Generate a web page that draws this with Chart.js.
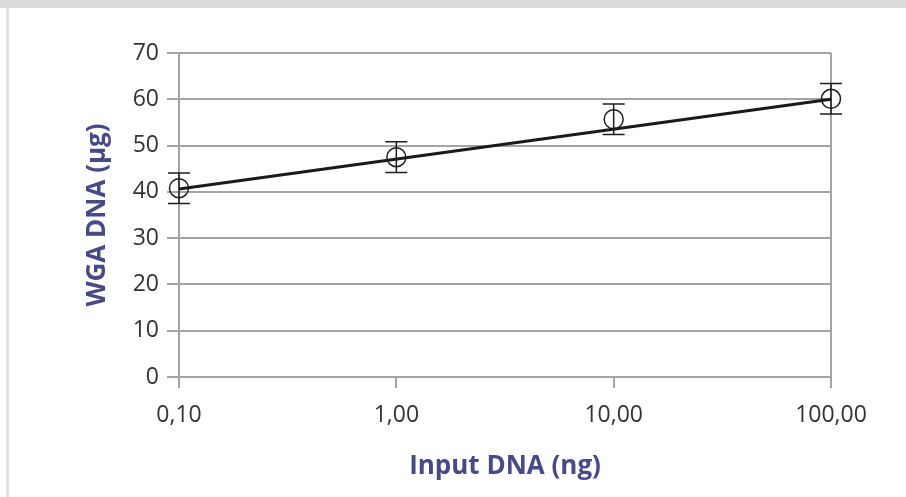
<!DOCTYPE html>
<html>
<head>
<meta charset="utf-8">
<script src="https://cdn.jsdelivr.net/npm/chart.js@4.4.1/dist/chart.umd.min.js"></script>
<style>
  html, body { margin: 0; padding: 0; background: #ffffff; }
  #wrap { position: relative; width: 906px; height: 497px; overflow: hidden; background: #ffffff; }
  #topband { position: absolute; left: 0; top: 0; width: 906px; height: 8px; background: #dcdcdc; }
  #leftband { position: absolute; left: 6px; top: 8px; width: 3px; height: 489px; background: #e2e2e2; }
  #c { position: absolute; left: 0; top: 0; }
</style>
</head>
<body>
<div id="wrap">
  <div id="topband"></div>
  <div id="leftband"></div>
  <canvas id="c" width="906" height="497"></canvas>
</div>
<script>
// ---- data ----
const inputDNA = [0.1, 1, 10, 100];           // ng (x, log scale)
const wgaDNA   = [40.8, 47.5, 55.7, 60.1];     // µg (mean)
const wgaErr   = [3.3, 3.3, 3.3, 3.3];         // µg (± error)
const trendX   = [0.1, 100];                   // trend line end points (x)
const trendY   = [40.6, 60.0];                 // trend line end points (y)
const xTickValues = [0.1, 1, 10, 100];
const xTickLabels = ['0,10', '1,00', '10,00', '100,00'];
const yTickValues = [0, 10, 20, 30, 40, 50, 60, 70];

const GRID = '#a4a4a4';
const INK = '#1e1e1e';
const TITLE = '#474a86';

const errorBarPlugin = {
  id: 'errorBars',
  afterDatasetsDraw(chart) {
    const ctx = chart.ctx;
    const xs = chart.scales.x, ys = chart.scales.y;
    ctx.save();
    ctx.strokeStyle = INK;
    ctx.lineWidth = 1.5;
    const cap = 11;
    for (let i = 0; i < inputDNA.length; i++) {
      const px = xs.getPixelForValue(inputDNA[i]);
      const pt = ys.getPixelForValue(wgaDNA[i] + wgaErr[i]);
      const pb = ys.getPixelForValue(wgaDNA[i] - wgaErr[i]);
      ctx.beginPath();
      ctx.moveTo(px, pt); ctx.lineTo(px, pb);
      ctx.moveTo(px - cap, pt); ctx.lineTo(px + cap, pt);
      ctx.moveTo(px - cap, pb); ctx.lineTo(px + cap, pb);
      ctx.stroke();
    }
    ctx.restore();
  }
};

new Chart(document.getElementById('c'), {
  type: 'scatter',
  data: {
    datasets: [
      {
        type: 'line',
        label: 'trend',
        data: trendX.map((x, i) => ({ x: x, y: trendY[i] })),
        borderColor: '#1a1a1a',
        borderWidth: 3,
        pointRadius: 0,
        fill: false,
        clip: false,
        order: 1
      },
      {
        label: 'WGA DNA',
        data: inputDNA.map((x, i) => ({ x: x, y: wgaDNA[i] })),
        pointRadius: 9.5,
        pointBorderWidth: 1.5,
        pointBackgroundColor: 'rgba(0,0,0,0)',
        pointBorderColor: INK,
        showLine: false,
        clip: false,
        order: 2
      }
    ]
  },
  options: {
    responsive: false,
    animation: false,
    devicePixelRatio: 1,
    layout: { padding: { top: 53, right: 75, left: 0, bottom: 0 } },
    plugins: { legend: { display: false }, tooltip: { enabled: false } },
    scales: {
      x: {
        type: 'logarithmic',
        min: 0.1,
        max: 100,
        afterBuildTicks(scale) { scale.ticks = xTickValues.map(v => ({ value: v })); },
        afterFit(scale) { scale.height = 120; },
        ticks: {
          autoSkip: false,
          maxRotation: 0,
          padding: 14,
          color: '#333333',
          font: { family: 'Open Sans', size: 23 },
          callback: (v, i) => xTickLabels[i]
        },
        grid: {
          color: (c) => (c.index === 0 || c.index === xTickValues.length - 1) ? GRID : 'rgba(0,0,0,0)',
          tickColor: GRID,
          lineWidth: 2,
          tickLength: 11
        },
        border: { display: true, color: GRID, width: 2 },
        title: {
          display: true,
          text: 'Input DNA (ng)',
          color: TITLE,
          font: { family: 'Open Sans', size: 26, weight: 'bold' },
          padding: { top: 15, bottom: 15 }
        }
      },
      y: {
        min: 0,
        max: 70,
        afterBuildTicks(scale) { scale.ticks = yTickValues.map(v => ({ value: v })); },
        afterFit(scale) { scale.width = 179; },
        ticks: {
          padding: 8,
          color: '#333333',
          font: { family: 'Open Sans', size: 23 }
        },
        grid: {
          color: GRID,
          tickColor: GRID,
          lineWidth: 2,
          tickLength: 12
        },
        border: { display: true, color: GRID, width: 2 },
        title: {
          display: true,
          text: 'WGA DNA (µg)',
          color: TITLE,
          font: { family: 'Open Sans', size: 26, weight: 'bold' },
          padding: { top: 82, bottom: 82 }
        }
      }
    }
  },
  plugins: [errorBarPlugin]
});
</script>
</body>
</html>
